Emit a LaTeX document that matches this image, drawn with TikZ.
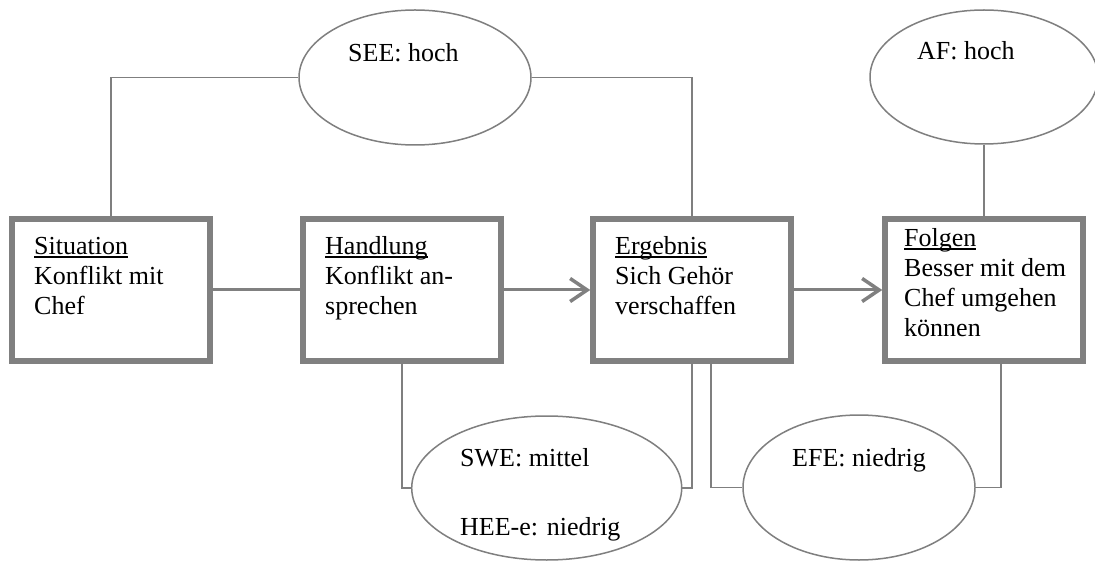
\documentclass[tikz,border=0pt]{standalone}
\usepackage{fontspec}
\setmainfont{Liberation Serif}
\usetikzlibrary{arrows.meta,shapes.geometric}
\definecolor{framegray}{HTML}{808080}
\definecolor{linegray}{HTML}{7F7F7F}
% underline that sits just below the baseline and crosses descenders
\newcommand\ulword[1]{\leavevmode\setbox0\hbox{#1}\rlap{\rule[-2.8pt]{\wd0}{1.3pt}}\box0}

\begin{document}
\begin{tikzpicture}[x=1pt,y=-1pt,
  stagebox/.style={draw=framegray, line width=5.5pt, rectangle, minimum width=198pt,
    minimum height=142pt, inner sep=0pt, fill=white},
  rating/.style={draw=linegray, line width=1.5pt, ellipse, inner sep=0pt, fill=white},
  boxtext/.style={anchor=base west, inner sep=0pt, font=\fontsize{26}{30}\selectfont},
  flowline/.style={draw=framegray, line width=3pt},
  flowarrow/.style={flowline, -{Straight Barb[length=17pt,width=23pt,line width=3.5pt]}},
  linkline/.style={draw=linegray, line width=1.6pt},
]
\useasboundingbox (0,0) rectangle (1095,561);

% stages of the episode
\node[stagebox] (sit) at (111,290) {};
\node[stagebox] (hand) at (402,290) {};
\node[stagebox] (erg) at (692,290) {};
\node[stagebox] (fol) at (984,290) {};

% ratings
\node[rating, minimum width=232pt, minimum height=135pt] (see) at (415,77.5) {};
\node[rating, minimum width=228pt, minimum height=134pt] (af) at (984,77) {};
\node[rating, minimum width=270pt, minimum height=144pt] (swe) at (546.7,488) {};
\node[rating, minimum width=232pt, minimum height=145pt] (efe) at (859,487.5) {};

% links between ratings and stages
\draw[linkline] (sit.north) |- (see.west);
\draw[linkline] (see.east) -| (erg.north);
\draw[linkline] (af.south) -- (fol.north);
\draw[linkline] (hand.south) |- (swe.west);
\draw[linkline] (erg.south) |- (swe.east);
\draw[linkline] ([xshift=19pt]erg.south) |- (efe.west);
\draw[linkline] ([xshift=17pt]fol.south) |- (efe.east);

% flow between stages
\draw[flowline] (sit.east) -- (hand.west);
\draw[flowarrow] (hand.east) -- (erg.west);
\draw[flowarrow] (erg.east) -- (fol.west);

% stage texts
\node[boxtext] (sit-t) at (34,255) {\parbox[t]{176pt}{\raggedright\ulword{Situation}\\Konflikt mit\\Chef}};
\node[boxtext] (hand-t) at (325,255) {\parbox[t]{176pt}{\raggedright\ulword{Handlung}\\Konflikt an-\\sprechen}};
\node[boxtext] (erg-t) at (615,255) {\parbox[t]{176pt}{\raggedright\ulword{Ergebnis}\\Sich Gehör\\verschaffen}};
\node[boxtext] (fol-t) at (904,247) {\parbox[t]{176pt}{\raggedright\ulword{Folgen}\\Besser mit dem\\Chef umgehen\\können}};

% rating texts
\node[boxtext] (see-t) at (348,62) {SEE: hoch};
\node[boxtext] (af-t) at (917,60) {AF: hoch};
\node[boxtext] (swe-t) at (460,466) {SWE: mittel};
\node[boxtext] (hee-t) at (460,535) {HEE-e: niedrig};
\node[boxtext] (efe-t) at (792,466) {EFE: niedrig};
\end{tikzpicture}
\end{document}
